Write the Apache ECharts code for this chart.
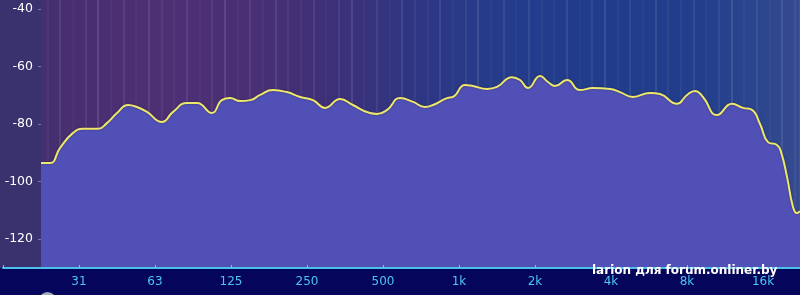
<!DOCTYPE html>
<html><head><meta charset="utf-8">
<script src="https://cdn.jsdelivr.net/npm/echarts@6/dist/echarts.min.js"></script>
<style>html,body{margin:0;padding:0;background:#05055b}#c{width:800px;height:295px}</style>
</head><body><div id="c"></div>
<script>
// ---- data ----
const freqHz = [22.1, 24.0, 26.3, 29.6, 32.4, 37.2, 40.3, 44.2, 48.9, 53.0, 58.1, 66.6, 73.7, 83.7, 91.7, 105, 115, 124, 136, 149,
  163, 183, 208, 235, 264, 295, 338, 380, 444, 473, 519, 584, 658, 733, 789, 896, 947, 1056, 1136, 1291,
  1414, 1621, 1745, 1877, 2094, 2252, 2400, 2678, 3015, 3394, 3964, 4342, 4888, 5707, 6255, 7300, 8000, 8604, 9256, 10516,
  12059, 13334, 14469, 15573, 16751, 18175, 18856, 19919, 21041, 21815, 22425];
const levelDb = [-93.6, -93.6, -88.3, -83.1, -81.7, -81.7, -79.7, -76.2, -73.4, -74.1, -75.8, -79.3, -75.8, -72.7, -72.7, -76.2, -71.7, -71.0, -72.0, -71.7,
  -69.9, -68.2, -68.9, -70.6, -71.7, -74.4, -71.3, -73.4, -76.2, -76.5, -75.1, -71.0, -72.3, -74.1, -73.4, -71.0, -70.6, -66.4, -66.8, -67.8,
  -67.1, -63.7, -64.7, -67.5, -63.3, -65.4, -66.8, -64.7, -68.2, -67.5, -67.8, -68.9, -70.6, -69.2, -69.6, -73.0, -69.9, -68.5, -70.6, -76.9,
  -73.0, -74.4, -75.1, -80.0, -86.3, -87.3, -89.7, -98.4, -108.9, -111.0, -110.3];
const octaveTickLabels = ['31', '63', '125', '250', '500', '1k', '2k', '4k', '8k', '16k'];
const levelTicks = [-120, -100, -80, -60, -40];
const watermark = 'larion для forum.onliner.by';

// ---- styling helpers ----
const lineAlphas = [0.06, 0.11, 0.04, 0.09, 0.14, 0.05, 0.10, 0.04, 0.12, 0.07];
const gridLineColors = ['rgba(0,0,0,0)'];
for (let i = 0; i < 70; i++) gridLineColors.push('rgba(255,255,255,' + lineAlphas[i % lineAlphas.length] + ')');

const chart = echarts.init(document.getElementById('c'), null, {renderer: 'canvas'});
const seriesData = freqHz.map((f, i) => [f, levelDb[i]]);

chart.setOption({
  animation: false,
  backgroundColor: '#05055b',
  grid: [
    {left: 41, right: 0, top: 0, bottom: 27},      // data
    {left: 3, right: 0, top: 0, bottom: 27},       // octave labels
    {left: 34.67, right: 0, top: 0, bottom: 27}    // thin vertical lines
  ],
  xAxis: [
    {type: 'log', logBase: 2, gridIndex: 0, min: 22.097, max: 22425, show: false},
    {type: 'value', gridIndex: 1, min: -1, max: 9.487, interval: 1, z: 5,
      axisLine: {show: true, lineStyle: {color: '#4cbfea', width: 2}},
      axisTick: {show: true, inside: true, length: 3, lineStyle: {color: '#9fb4e0', width: 1}},
      splitLine: {show: false},
      axisLabel: {show: true, showMaxLabel: false, margin: 8, color: '#4cc6ec', fontSize: 12, fontFamily: 'DejaVu Sans',
        formatter: function (v) {
          const i = Math.round(v);
          return (Math.abs(v - i) < 1e-6 && i >= 0 && i < octaveTickLabels.length) ? octaveTickLabels[i] : '';
        }}},
    {type: 'value', gridIndex: 2, min: 0, max: 120.84, interval: 2,
      axisLine: {show: false}, axisTick: {show: false}, axisLabel: {show: false},
      splitLine: {show: true, lineStyle: {color: gridLineColors, width: 1.5}}}
  ],
  yAxis: [
    {type: 'value', gridIndex: 0, min: -130.1, max: -36.87,
      axisLine: {show: false},
      splitLine: {show: false},
      axisTick: {show: true, length: 3, customValues: levelTicks, lineStyle: {color: '#7d78a8'}},
      axisLabel: {show: true, customValues: levelTicks, margin: 8, color: '#ffffff', fontSize: 12.5, fontFamily: 'DejaVu Sans'}},
    {type: 'value', gridIndex: 1, min: 0, max: 1, show: false},
    {type: 'value', gridIndex: 2, min: 0, max: 1, show: false}
  ],
  graphic: [
    {type: 'rect', z: -10, silent: true, shape: {x: 41, y: 0, width: 759, height: 268},
      style: {fill: {type: 'linear', x: 0, y: 0, x2: 1, y2: 0, colorStops: [
        {offset: 0, color: '#43306e'}, {offset: 0.03, color: '#472f70'}, {offset: 0.15, color: '#4d2f74'},
        {offset: 0.28, color: '#4a2f75'}, {offset: 0.38, color: '#3d3078'}, {offset: 0.5, color: '#2e3684'},
        {offset: 0.6, color: '#253c8b'}, {offset: 0.74, color: '#203c8b'}, {offset: 0.87, color: '#233e8b'},
        {offset: 0.96, color: '#2e478f'}, {offset: 1, color: '#364b90'}]}}},
    {type: 'rect', z: -9, silent: true, shape: {x: 0, y: 0, width: 41, height: 268}, style: {fill: '#3a326e'}},
    {type: 'circle', z: -9, silent: true, shape: {cx: 47.5, cy: 301, r: 9}, style: {fill: '#a8a8bc'}},
    {type: 'text', z: 100, silent: true, x: 592, y: 265,
      style: {text: watermark, fill: '#ffffff', font: 'bold 12px "DejaVu Sans"',
        shadowColor: 'rgba(0,0,20,0.9)', shadowBlur: 2, shadowOffsetX: 1, shadowOffsetY: 1}}
  ],
  series: [{
    type: 'line', xAxisIndex: 0, yAxisIndex: 0, data: seriesData,
    smooth: 0.5, showSymbol: false, symbol: 'none',
    lineStyle: {color: '#eee86a', width: 2, shadowColor: 'rgba(30,20,60,0.5)', shadowBlur: 2},
    areaStyle: {color: '#5150b6', opacity: 1, origin: 'start'},
    z: 2
  }]
});
</script>
</body></html>
